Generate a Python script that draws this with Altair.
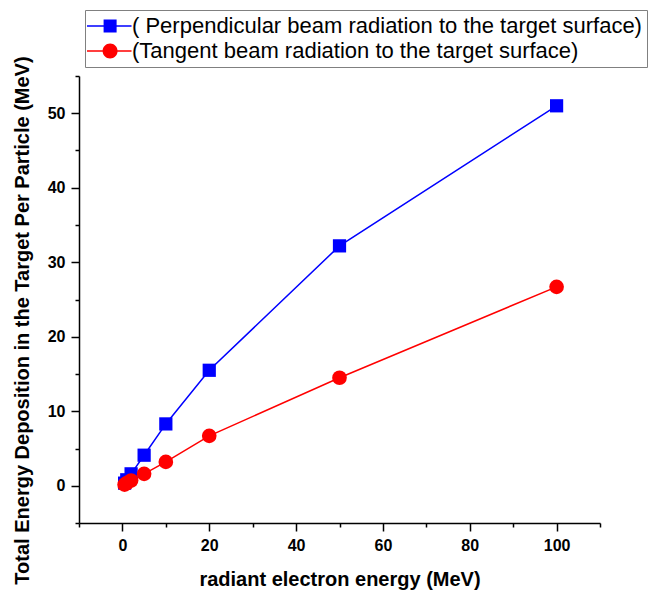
import altair as alt
import pandas as pd

# ---- data ----
energy = [0.5, 1, 2, 5, 10, 20, 50, 100]
perpendicular = [0.35, 0.8, 1.6, 4.1, 8.3, 15.5, 32.2, 51.0]
tangent = [0.15, 0.35, 0.7, 1.6, 3.2, 6.7, 14.5, 26.7]

series_names = [
    "( Perpendicular beam radiation to the target surface)",
    "(Tangent beam radiation to the target surface)",
]
series_colors = ["#0000ff", "#ff0000"]

x_ticks = list(range(-10, 111, 10))
y_ticks = list(range(-5, 56, 5))

x_title = "radiant electron energy (MeV)"
y_title = "Total Energy Deposition in the Target Per Particle (MeV)"

rows = []
for e, v in zip(energy, perpendicular):
    rows.append({"energy": e, "dep": v, "series": series_names[0]})
for e, v in zip(energy, tangent):
    rows.append({"energy": e, "dep": v, "series": series_names[1]})
df = pd.DataFrame(rows)

# legend symbols: a short line with the marker on it (units of 7 px)
legend_paths = [
    "M-2.0,-0.107H4.36V0.107H-2.0Z M0.37,-0.93H2.23V0.93H0.37Z",
    "M-2.0,-0.107H4.36V0.107H-2.0Z M2.37,0A1.07,1.07,0,1,1,0.23,0A1.07,1.07,0,1,1,2.37,0Z",
]

FONT = "Liberation Sans"

color_scale = alt.Scale(domain=series_names, range=series_colors)
shape_scale = alt.Scale(domain=series_names, range=legend_paths)

x_axis = alt.Axis(
    values=x_ticks,
    labelExpr="datum.value % 20 === 0 ? datum.label : ''",
    tickSize={"condition": {"test": "datum.value % 20 === 0", "value": 8}, "value": 4},
    labelOverlap=False,
    labelFlush=False,
    titleY=62,
    titleBaseline="alphabetic",
)
y_axis = alt.Axis(
    values=y_ticks,
    labelExpr="datum.value % 10 === 0 ? datum.label : ''",
    tickSize={"condition": {"test": "datum.value % 10 === 0", "value": 8}, "value": 4},
    labelOverlap=False,
    labelFlush=False,
    titleX=-51,
    titleY=244,
    titleAngle=270,
    titleAlign="center",
    titleBaseline="alphabetic",
)

X = alt.X("energy:Q", scale=alt.Scale(domain=[-10, 110], nice=False, zero=False),
          axis=x_axis, title=x_title)
Y = alt.Y("dep:Q", scale=alt.Scale(domain=[-5, 55], nice=False, zero=False),
          axis=y_axis, title=y_title)

legend = alt.Legend(
    title=None,
    orient="none",
    legendX=6,
    legendY=-66,
    direction="vertical",
    labelFont=FONT,
    labelFontSize=22,
    labelColor="black",
    labelLimit=0,
    labelOffset=20,
    symbolSize=196,
    symbolStrokeWidth=0,
    symbolOpacity=1,
    symbolType="square",
    rowPadding=3,
    padding=5,
    strokeColor="#808080",
    fillColor="white",
)

C = alt.Color("series:N", scale=color_scale, legend=legend)

base = alt.Chart(df)

lines = base.mark_line(strokeWidth=1.5).encode(x=X, y=Y, detail="series:N", color=C)

squares = base.transform_filter(alt.datum.series == series_names[0]).mark_point(
    shape="square", filled=True, size=175, opacity=1
).encode(x=X, y=Y, color=C)

circles = base.transform_filter(alt.datum.series == series_names[1]).mark_point(
    shape="circle", filled=True, size=215, opacity=1
).encode(x=X, y=Y, color=C)

legend_layer = base.transform_filter("false").mark_point(filled=True, opacity=1).encode(
    x=X, y=Y,
    color=C,
    shape=alt.Shape("series:N", scale=shape_scale, legend=legend),
)

chart = alt.layer(lines, squares, circles, legend_layer).properties(
    width=521,
    height=447,
    autosize=alt.AutoSizeParams(type="none"),
    padding={"left": 79, "top": 76, "right": 49, "bottom": 69},
    background="white",
).configure_view(stroke=None).configure_axis(
    grid=False,
    domainColor="black",
    domainWidth=1.5,
    tickColor="black",
    tickWidth=1.5,
    labelFont=FONT,
    labelFontSize=16,
    labelFontWeight="bold",
    labelColor="black",
    labelPadding=6,
    titleFont=FONT,
    titleFontSize=20,
    titleFontWeight="bold",
    titleColor="black",
)

chart.save("out.html", embed_options={"renderer": "svg", "actions": False})
